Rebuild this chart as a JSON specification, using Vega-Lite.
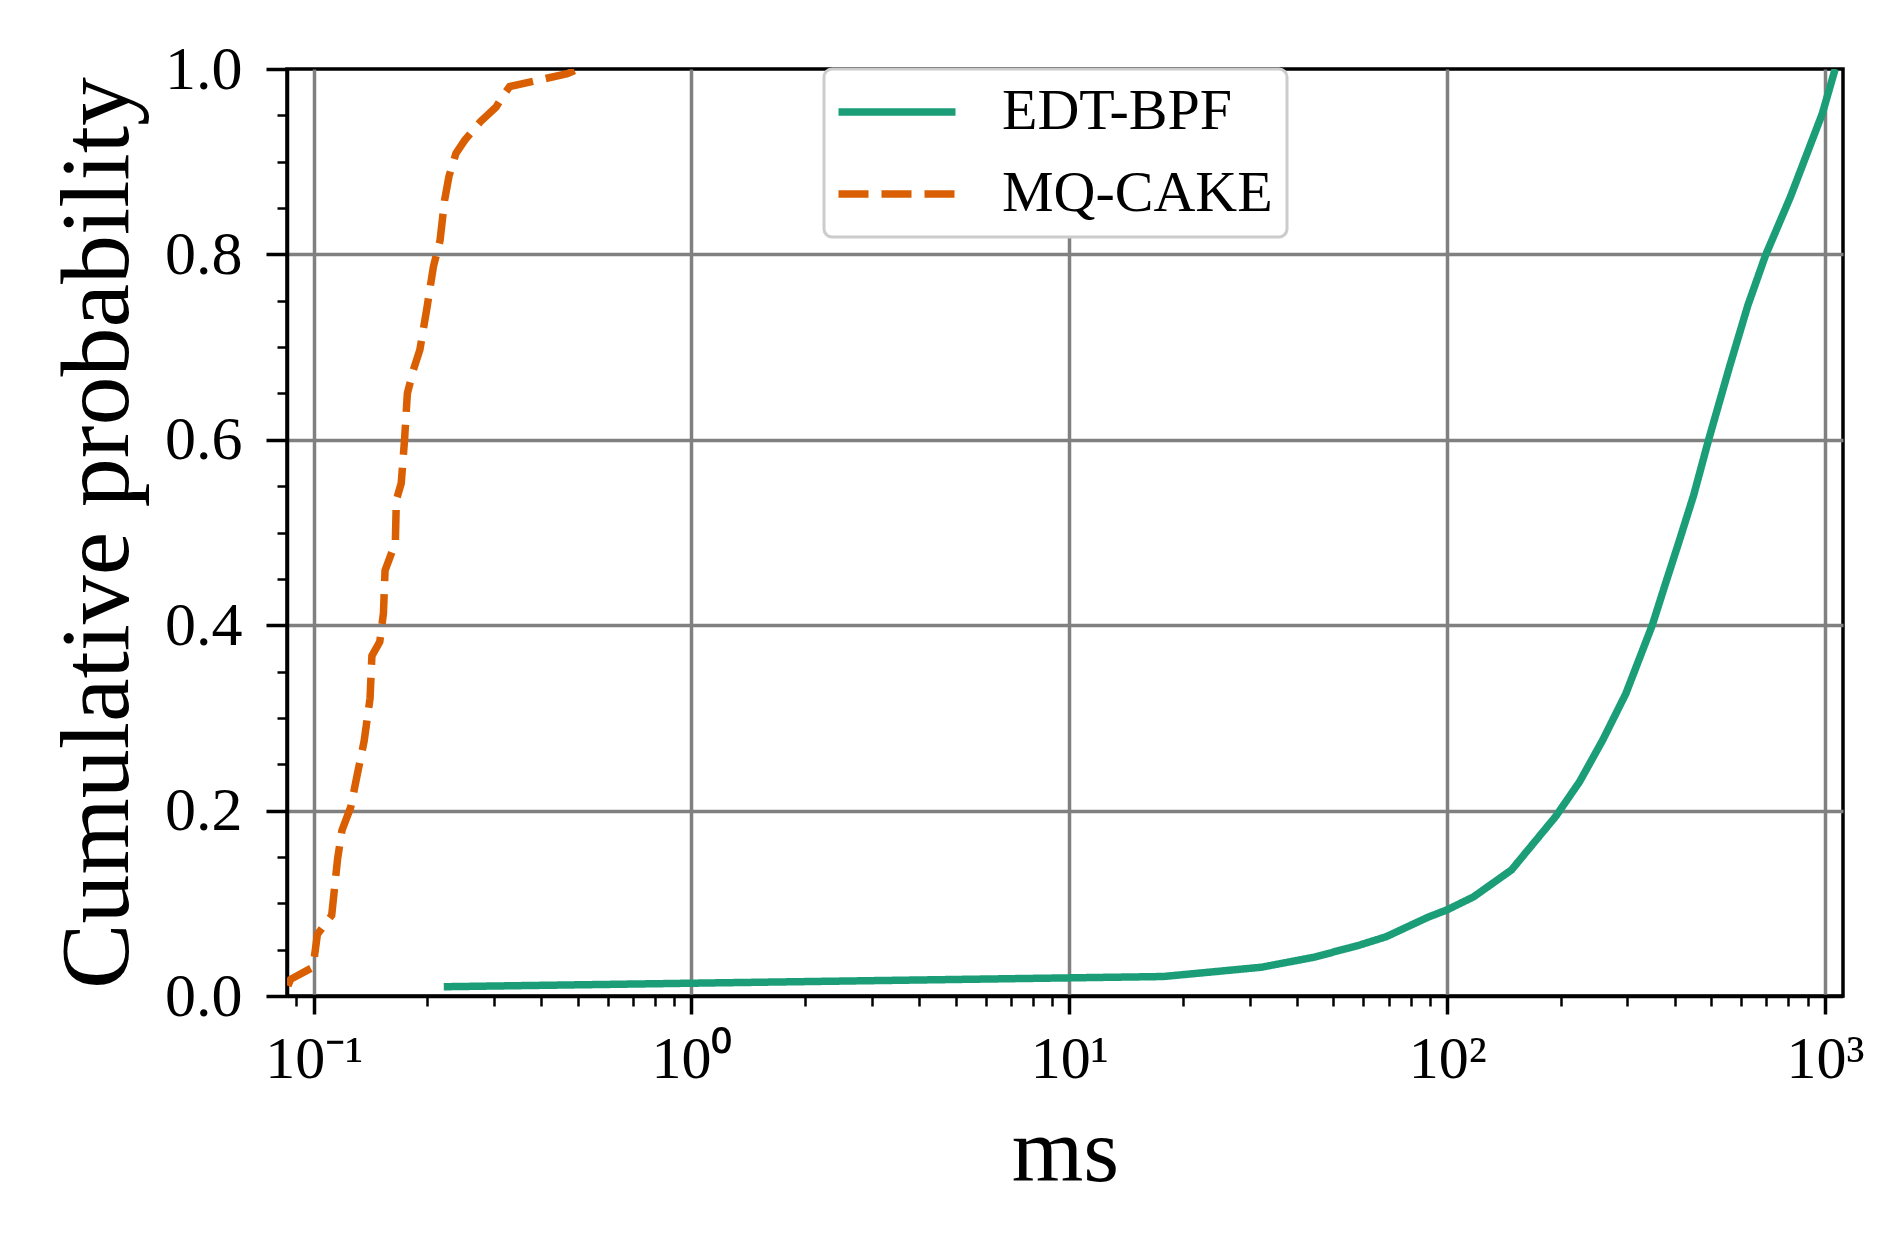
{
  "$schema": "https://vega.github.io/schema/vega-lite/v6.json",
  "width": 1556,
  "height": 927,
  "autosize": {"type": "none"},
  "padding": {"left": 287, "top": 69, "right": 46, "bottom": 245},
  "background": "white",
  "config": {
    "view": {"stroke": "black", "strokeWidth": 3.5},
    "font": "Liberation Serif"
  },
  "data": {
    "values": [
      {"series": "EDT-BPF", "ms": 0.221, "p": 0.010},
      {"series": "EDT-BPF", "ms": 17.7, "p": 0.021},
      {"series": "EDT-BPF", "ms": 32.2, "p": 0.031},
      {"series": "EDT-BPF", "ms": 44.6, "p": 0.042},
      {"series": "EDT-BPF", "ms": 58.7, "p": 0.055},
      {"series": "EDT-BPF", "ms": 69, "p": 0.064},
      {"series": "EDT-BPF", "ms": 89, "p": 0.085},
      {"series": "EDT-BPF", "ms": 100, "p": 0.093},
      {"series": "EDT-BPF", "ms": 117.5, "p": 0.107},
      {"series": "EDT-BPF", "ms": 148, "p": 0.136},
      {"series": "EDT-BPF", "ms": 194, "p": 0.194},
      {"series": "EDT-BPF", "ms": 224, "p": 0.231},
      {"series": "EDT-BPF", "ms": 258, "p": 0.276},
      {"series": "EDT-BPF", "ms": 297, "p": 0.326},
      {"series": "EDT-BPF", "ms": 349, "p": 0.400},
      {"series": "EDT-BPF", "ms": 377, "p": 0.443},
      {"series": "EDT-BPF", "ms": 410, "p": 0.489},
      {"series": "EDT-BPF", "ms": 449, "p": 0.540},
      {"series": "EDT-BPF", "ms": 492, "p": 0.600},
      {"series": "EDT-BPF", "ms": 560, "p": 0.680},
      {"series": "EDT-BPF", "ms": 625, "p": 0.745},
      {"series": "EDT-BPF", "ms": 696, "p": 0.799},
      {"series": "EDT-BPF", "ms": 810, "p": 0.862},
      {"series": "EDT-BPF", "ms": 984, "p": 0.952},
      {"series": "EDT-BPF", "ms": 1064, "p": 1.0},
      {"series": "MQ-CAKE", "ms": 0.0855, "p": 0.011},
      {"series": "MQ-CAKE", "ms": 0.0869, "p": 0.018},
      {"series": "MQ-CAKE", "ms": 0.0996, "p": 0.031},
      {"series": "MQ-CAKE", "ms": 0.1023, "p": 0.0665},
      {"series": "MQ-CAKE", "ms": 0.1116, "p": 0.087},
      {"series": "MQ-CAKE", "ms": 0.1157, "p": 0.148},
      {"series": "MQ-CAKE", "ms": 0.1188, "p": 0.1785},
      {"series": "MQ-CAKE", "ms": 0.1254, "p": 0.204},
      {"series": "MQ-CAKE", "ms": 0.1306, "p": 0.240},
      {"series": "MQ-CAKE", "ms": 0.136, "p": 0.275},
      {"series": "MQ-CAKE", "ms": 0.141, "p": 0.321},
      {"series": "MQ-CAKE", "ms": 0.1426, "p": 0.367},
      {"series": "MQ-CAKE", "ms": 0.1496, "p": 0.382},
      {"series": "MQ-CAKE", "ms": 0.153, "p": 0.413},
      {"series": "MQ-CAKE", "ms": 0.1545, "p": 0.459},
      {"series": "MQ-CAKE", "ms": 0.1645, "p": 0.489},
      {"series": "MQ-CAKE", "ms": 0.1655, "p": 0.535},
      {"series": "MQ-CAKE", "ms": 0.1705, "p": 0.553},
      {"series": "MQ-CAKE", "ms": 0.174, "p": 0.600},
      {"series": "MQ-CAKE", "ms": 0.177, "p": 0.650},
      {"series": "MQ-CAKE", "ms": 0.1835, "p": 0.675},
      {"series": "MQ-CAKE", "ms": 0.191, "p": 0.697},
      {"series": "MQ-CAKE", "ms": 0.199, "p": 0.740},
      {"series": "MQ-CAKE", "ms": 0.2075, "p": 0.787},
      {"series": "MQ-CAKE", "ms": 0.216, "p": 0.815},
      {"series": "MQ-CAKE", "ms": 0.222, "p": 0.858},
      {"series": "MQ-CAKE", "ms": 0.228, "p": 0.884},
      {"series": "MQ-CAKE", "ms": 0.238, "p": 0.909},
      {"series": "MQ-CAKE", "ms": 0.251, "p": 0.923},
      {"series": "MQ-CAKE", "ms": 0.276, "p": 0.943},
      {"series": "MQ-CAKE", "ms": 0.304, "p": 0.959},
      {"series": "MQ-CAKE", "ms": 0.316, "p": 0.970},
      {"series": "MQ-CAKE", "ms": 0.330, "p": 0.981},
      {"series": "MQ-CAKE", "ms": 0.469, "p": 0.995},
      {"series": "MQ-CAKE", "ms": 0.502, "p": 1.0}
    ]
  },
  "mark": {"type": "line", "strokeWidth": 7.5, "clip": true},
  "encoding": {
    "x": {
      "field": "ms",
      "type": "quantitative",
      "scale": {"type": "log", "domain": [0.085, 1116], "nice": false},
      "axis": {
        "title": "ms",
        "titleFont": "Liberation Serif",
        "titleFontSize": 92,
        "titleFontWeight": "normal",
        "titleColor": "black",
        "titlePadding": 18,
        "values": [0.09, 0.1, 0.2, 0.3, 0.4, 0.5, 0.6, 0.7, 0.8, 0.9, 1, 2, 3, 4, 5, 6, 7, 8, 9, 10, 20, 30, 40, 50, 60, 70, 80, 90, 100, 200, 300, 400, 500, 600, 700, 800, 900, 1000],
        "labelExpr": "datum.value == 0.1 ? '10⁻¹' : datum.value == 1 ? '10⁰' : datum.value == 10 ? '10¹' : datum.value == 100 ? '10²' : datum.value == 1000 ? '10³' : ''",
        "labelFont": "Liberation Serif",
        "labelFontSize": 60,
        "labelColor": "black",
        "labelPadding": 16,
        "labelOverlap": false,
        "labelFlush": false,
        "labelBound": false,
        "domainColor": "black",
        "domainWidth": 3.5,
        "tickColor": "black",
        "tickSize": {"condition": {"test": "abs(log(datum.value)/LN10 - round(log(datum.value)/LN10)) < 0.001", "value": 18}, "value": 10},
        "tickWidth": {"condition": {"test": "abs(log(datum.value)/LN10 - round(log(datum.value)/LN10)) < 0.001", "value": 3.5}, "value": 2.5},
        "grid": true,
        "gridColor": "#808080",
        "gridWidth": 3.5,
        "gridOpacity": {"condition": {"test": "abs(log(datum.value)/LN10 - round(log(datum.value)/LN10)) < 0.001", "value": 1}, "value": 0}
      }
    },
    "y": {
      "field": "p",
      "type": "quantitative",
      "scale": {"domain": [0, 1], "nice": false},
      "axis": {
        "title": "Cumulative probability",
        "titleFont": "Liberation Serif",
        "titleFontSize": 98,
        "titleFontWeight": "normal",
        "titleColor": "black",
        "titlePadding": 16,
        "values": [0, 0.05, 0.1, 0.15, 0.2, 0.25, 0.3, 0.35, 0.4, 0.45, 0.5, 0.55, 0.6, 0.65, 0.7, 0.75, 0.8, 0.85, 0.9, 0.95, 1.0],
        "labelExpr": "abs(datum.value*5 - round(datum.value*5)) < 0.001 ? format(datum.value, '.1f') : ''",
        "labelFont": "Liberation Serif",
        "labelFontSize": 62,
        "labelColor": "black",
        "labelPadding": 24,
        "labelOverlap": false,
        "labelFlush": false,
        "labelBound": false,
        "domainColor": "black",
        "domainWidth": 3.5,
        "tickColor": "black",
        "tickSize": {"condition": {"test": "abs(datum.value*5 - round(datum.value*5)) < 0.001", "value": 21}, "value": 10},
        "tickWidth": {"condition": {"test": "abs(datum.value*5 - round(datum.value*5)) < 0.001", "value": 3.5}, "value": 2.5},
        "grid": true,
        "gridColor": "#808080",
        "gridWidth": 3.5,
        "gridOpacity": {"condition": {"test": "abs(datum.value*5 - round(datum.value*5)) < 0.001 && datum.value > 0.01 && datum.value < 0.99", "value": 1}, "value": 0}
      }
    },
    "color": {
      "field": "series",
      "type": "nominal",
      "scale": {"domain": ["EDT-BPF", "MQ-CAKE"], "range": ["#1b9e77", "#d95f02"]},
      "legend": {
        "title": null,
        "orient": "none",
        "legendX": 537,
        "legendY": 0,
        "labelFont": "Liberation Serif",
        "labelFontSize": 58,
        "labelColor": "black",
        "labelLimit": 0,
        "labelOffset": 76,
        "symbolOffset": 30,
        "symbolType": "M-3,0H3",
        "symbolSize": 1521,
        "symbolStrokeWidth": 7.5,
        "strokeColor": "#cccccc",
        "fillColor": "white",
        "cornerRadius": 8,
        "padding": 14,
        "rowPadding": 24,
        "labelExpr": "datum.label + '\u00a0\u00a0\u00a0'",
        "encode": {"legend": {"update": {"strokeWidth": {"value": 3}}}}
      }
    },
    "strokeDash": {
      "field": "series",
      "type": "nominal",
      "scale": {"domain": ["EDT-BPF", "MQ-CAKE"], "range": [[1, 0], [30, 13]]},
      "legend": null
    }
  }
}
